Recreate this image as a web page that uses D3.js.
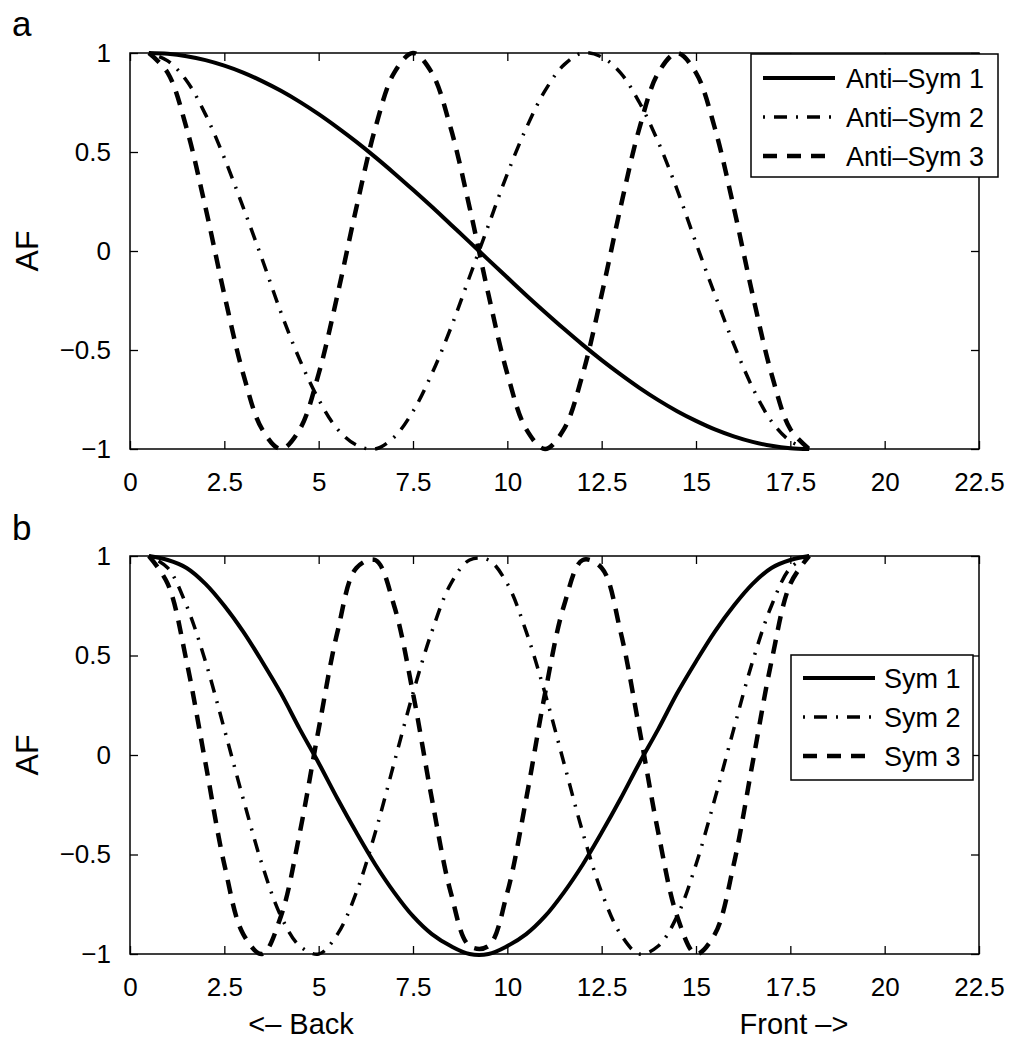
<!DOCTYPE html>
<html>
<head>
<meta charset="utf-8">
<script src="https://cdn.jsdelivr.net/npm/d3@7"></script>
<style>
  body { margin: 0; background: #fff; }
  svg text { font-family: "Liberation Sans", Arial, Helvetica, sans-serif; fill: #000; }
</style>
</head>
<body>
<div class="chart"></div>
<script>
// sample positions along the array
var xs = [0.5, 1, 1.5, 2, 2.5, 3, 3.5, 4, 4.5, 5, 5.5, 6, 6.5, 7, 7.5, 8, 8.5, 9,
  9.5, 10, 10.5, 11, 11.5, 12, 12.5, 13, 13.5, 14, 14.5, 15, 15.5, 16, 16.5, 17, 17.5, 18];

// panel a
var antiSym1 = [1.000, 0.996, 0.984, 0.964, 0.936, 0.901, 0.858, 0.809, 0.753, 0.691, 0.623, 0.551, 0.474, 0.393, 0.309, 0.223, 0.134, 0.045,
  -0.045, -0.134, -0.223, -0.309, -0.393, -0.474, -0.551, -0.623, -0.691, -0.753, -0.809, -0.858, -0.901, -0.936, -0.964, -0.984, -0.996, -1.000];
var antiSym2 = [1.00, 0.96, 0.86, 0.69, 0.47, 0.22, -0.04, -0.31, -0.55, -0.75, -0.90, -0.98, -1.00, -0.94, -0.81, -0.62, -0.39, -0.13,
  0.13, 0.39, 0.62, 0.81, 0.94, 1.00, 0.98, 0.90, 0.75, 0.55, 0.31, 0.04, -0.22, -0.47, -0.69, -0.86, -0.96, -1.00];
var antiSym3 = [1.00, 0.90, 0.62, 0.22, -0.22, -0.62, -0.90, -1.00, -0.90, -0.62, -0.22, 0.22, 0.62, 0.90, 1.00, 0.90, 0.62, 0.22,
  -0.22, -0.62, -0.90, -1.00, -0.90, -0.62, -0.22, 0.22, 0.62, 0.90, 1.00, 0.90, 0.62, 0.22, -0.22, -0.62, -0.90, -1.00];

// panel b
var sym1 = [1.00, 0.98, 0.94, 0.86, 0.75, 0.62, 0.47, 0.31, 0.13, -0.04, -0.22, -0.39, -0.55, -0.69, -0.81, -0.90, -0.96, -1.00,
  -1.00, -0.96, -0.90, -0.81, -0.69, -0.55, -0.39, -0.22, -0.04, 0.13, 0.31, 0.47, 0.62, 0.75, 0.86, 0.94, 0.98, 1.00];
var sym2 = [1.00, 0.94, 0.75, 0.47, 0.13, -0.22, -0.55, -0.81, -0.96, -1.00, -0.90, -0.69, -0.39, -0.04, 0.31, 0.62, 0.86, 0.98,
  0.98, 0.86, 0.62, 0.31, -0.04, -0.39, -0.69, -0.90, -1.00, -0.96, -0.81, -0.55, -0.22, 0.13, 0.47, 0.75, 0.94, 1.00];
var sym3 = [1.00, 0.86, 0.47, -0.04, -0.55, -0.90, -1.00, -0.81, -0.39, 0.13, 0.62, 0.94, 0.98, 0.75, 0.31, -0.22, -0.69, -0.96,
  -0.96, -0.69, -0.22, 0.31, 0.75, 0.98, 0.94, 0.62, 0.13, -0.39, -0.81, -1.00, -0.90, -0.55, -0.04, 0.47, 0.86, 1.00];

var xTicks = [0, 2.5, 5, 7.5, 10, 12.5, 15, 17.5, 20, 22.5];
var yTicks = [-1, -0.5, 0, 0.5, 1];
var antiNames = ['Anti\u2013Sym 1', 'Anti\u2013Sym 2', 'Anti\u2013Sym 3'];
var symNames = ['Sym 1', 'Sym 2', 'Sym 3'];

var svgWidth = 1020;
var svgHeight = 1050;

var svg = d3.select('.chart')
  .append('svg')
  .attr('width', svgWidth)
  .attr('height', svgHeight);

var styles = [
  { width: 4, dash: null },
  { width: 3.5, dash: '2,9,13,9' },
  { width: 4.5, dash: '14,10' }
];

var x = d3.scaleLinear().domain([0, 22.5]).range([130, 979]);

function drawPanel(cfg) {
  var y = d3.scaleLinear().domain([-1, 1]).range([cfg.bottom, cfg.top]);
  var g = svg.append('g');

  var clipId = 'clip' + cfg.letter;
  g.append('clipPath').attr('id', clipId)
    .append('rect')
    .attr('x', 128).attr('y', cfg.top - 3)
    .attr('width', 853).attr('height', cfg.bottom - cfg.top + 6);

  // axes, ticks inside like matlab
  g.append('g')
    .attr('transform', 'translate(0,' + cfg.bottom + ')')
    .call(d3.axisBottom(x).tickValues(xTicks).tickSize(-8).tickPadding(24).tickFormat(d3.format('')))
    .attr('font-size', 26)
    .attr('font-family', null)
    .call(function(a) { a.select('.domain').remove(); });

  g.append('g')
    .attr('transform', 'translate(0,' + cfg.top + ')')
    .call(d3.axisTop(x).tickValues(xTicks).tickSize(-8).tickFormat(''))
    .call(function(a) { a.select('.domain').remove(); });

  g.append('g')
    .attr('transform', 'translate(130,0)')
    .call(d3.axisLeft(y).tickValues(yTicks).tickSize(-8).tickPadding(19).tickFormat(d3.format('')))
    .attr('font-size', 26)
    .attr('font-family', null)
    .call(function(a) { a.select('.domain').remove(); });

  g.append('g')
    .attr('transform', 'translate(979,0)')
    .call(d3.axisRight(y).tickValues(yTicks).tickSize(-8).tickFormat(''))
    .call(function(a) { a.select('.domain').remove(); });

  g.selectAll('.tick line').attr('stroke', '#000').attr('stroke-width', 1.3);

  g.append('rect')
    .attr('x', 130).attr('y', cfg.top)
    .attr('width', 849).attr('height', cfg.bottom - cfg.top)
    .attr('fill', 'none').attr('stroke', '#000').attr('stroke-width', 1.5);

  var line = d3.line()
    .x(function(d) { return x(d[0]); })
    .y(function(d) { return y(d[1]); })
    .curve(d3.curveCatmullRom.alpha(0.5));

  cfg.series.forEach(function(vals, i) {
    var pts = xs.map(function(v, k) { return [v, vals[k]]; });
    g.append('path')
      .attr('d', line(pts))
      .attr('clip-path', 'url(#' + clipId + ')')
      .attr('fill', 'none')
      .attr('stroke', '#000')
      .attr('stroke-width', styles[i].width)
      .attr('stroke-dasharray', styles[i].dash)
      .attr('stroke-linejoin', 'round');
  });

  // y label
  g.append('text')
    .attr('transform', 'translate(38,' + ((cfg.top + cfg.bottom) / 2) + ') rotate(-90)')
    .attr('text-anchor', 'middle')
    .style('font-size', '32px')
    .text('AF');

  // panel letter
  g.append('text')
    .attr('x', 12).attr('y', cfg.letterY)
    .style('font-size', '35px')
    .text(cfg.letter);

  // legend
  var lg = cfg.legend;
  g.append('rect')
    .attr('x', lg.x).attr('y', lg.y)
    .attr('width', lg.w).attr('height', lg.h)
    .attr('fill', '#fff').attr('stroke', '#000').attr('stroke-width', 1.5);

  cfg.names.forEach(function(name, i) {
    var ry = lg.y + lg.row0 + i * lg.step;
    g.append('line')
      .attr('x1', lg.x + 12).attr('x2', lg.x + 12 + lg.sample)
      .attr('y1', ry).attr('y2', ry)
      .attr('stroke', '#000')
      .attr('stroke-width', styles[i].width)
      .attr('stroke-dasharray', styles[i].dash);
    g.append('text')
      .attr('x', lg.x + lg.textX).attr('y', ry)
      .attr('dy', '0.36em')
      .style('font-size', '27px')
      .text(name);
  });
}

drawPanel({
  letter: 'a', letterY: 36, top: 53, bottom: 449,
  series: [antiSym1, antiSym2, antiSym3], names: antiNames,
  legend: { x: 751, y: 54, w: 247, h: 123, row0: 24, step: 39, sample: 72, textX: 95 }
});

drawPanel({
  letter: 'b', letterY: 540, top: 556, bottom: 954,
  series: [sym1, sym2, sym3], names: symNames,
  legend: { x: 791, y: 655, w: 182, h: 125, row0: 23, step: 39, sample: 72, textX: 93 }
});

svg.append('text')
  .attr('x', 301).attr('y', 1034)
  .attr('text-anchor', 'middle')
  .style('font-size', '29px')
  .text('<\u2013 Back');

svg.append('text')
  .attr('x', 794).attr('y', 1034)
  .attr('text-anchor', 'middle')
  .style('font-size', '29px')
  .text('Front \u2013>');
</script>
</body>
</html>
